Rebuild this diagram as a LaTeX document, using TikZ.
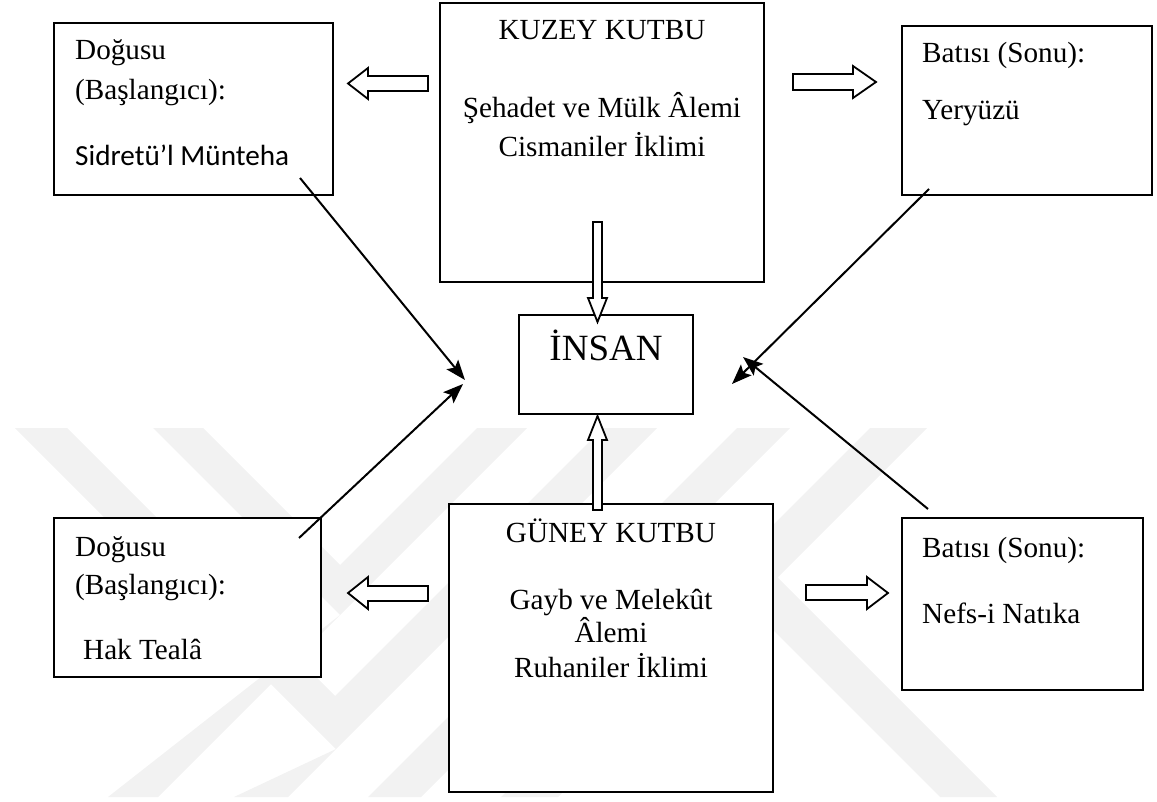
\documentclass[tikz,border=0pt]{standalone}
\usepackage{fontspec}
\setmainfont{Liberation Serif}
\newfontfamily\calibrifont{Carlito}
\usetikzlibrary{arrows.meta}
\begin{document}
\begin{tikzpicture}[x=1pt,y=-1pt,
  box/.style={draw,line width=2pt,fill=white,inner sep=0pt},
  txt/.style={inner sep=0pt,font=\fontsize{29.2}{35}\selectfont},
  ltxt/.style={txt,anchor=base west},
  ctxt/.style={txt,anchor=base},
  blockarrow/.style={draw,line width=1.8pt,fill=white,line join=miter},
  conn/.style={line width=2pt,-{Stealth[length=20pt,width=15pt,inset=4pt]}},
  wm/.style={fill=black!5,draw=none}]
\useasboundingbox (0,0) rectangle (1157,802);
% faint watermark bands
\fill[wm] (15,428) -- (67,428) -- (335,696) -- (603,428) -- (657,428) -- (288,797) -- (234,797) -- (336,749) -- cycle;
\fill[wm] (153,428) -- (203,428) -- (340,565) -- (477,428) -- (527,428) -- (158,797) -- (108,797) -- (340,615) -- cycle;
\fill[wm] (737,428) -- (790,428) -- (421,797) -- (368,797) -- cycle;
\fill[wm] (870,428) -- (927,428) -- (777.5,577.5) -- (997,797) -- (940,797) -- (749,606) -- (558,797) -- (501,797) -- cycle;
% boxes
\node[box,minimum width=279pt,minimum height=172pt] (tl) at (193.5,109) {};
\node[box,minimum width=324pt,minimum height=279pt] (kn) at (602,142.5) {};
\node[box,minimum width=250pt,minimum height=169pt] (tr) at (1027,110.5) {};
\node[box,minimum width=174pt,minimum height=99pt] (ins) at (606,364.5) {};
\node[box,minimum width=267pt,minimum height=159pt] (bl) at (187.5,597.5) {};
\node[box,minimum width=324pt,minimum height=288pt] (gk) at (611,648) {};
\node[box,minimum width=241pt,minimum height=172pt] (br) at (1022.5,604) {};
% texts
\node[ltxt] (tl1) at (75,60) {Doğusu};
\node[ltxt] (tl2) at (75,100) {(Başlangıcı):};
\node[ltxt,font=\calibrifont\fontsize{29.2}{35}\selectfont] (tl3) at (75,166) {Sidretü’l Münteha};
\node[ctxt] (kn1) at (602,40) {KUZEY KUTBU};
\node[ctxt] (kn2) at (602,118) {Şehadet ve Mülk Âlemi};
\node[ctxt] (kn3) at (602,157) {Cismaniler İklimi};
\node[ltxt] (tr1) at (922,63) {Batısı (Sonu):};
\node[ltxt] (tr2) at (922,120) {Yeryüzü};
\node[ctxt,font=\fontsize{37}{44}\selectfont] (ins1) at (606,361) {İNSAN};
\node[ltxt] (bl1) at (75,556) {Doğusu};
\node[ltxt] (bl2) at (75,594) {(Başlangıcı):};
\node[ltxt] (bl3) at (83,659) {Hak Tealâ};
\node[ctxt] (gk1) at (611,542) {GÜNEY KUTBU};
\node[ctxt] (gk2) at (611,609) {Gayb ve Melekût};
\node[ctxt] (gk3) at (611,642) {Âlemi};
\node[ctxt] (gk4) at (611,677) {Ruhaniler İklimi};
\node[ltxt] (br1) at (922,557) {Batısı (Sonu):};
\node[ltxt] (br2) at (922,623) {Nefs-i Natıka};
% block arrows
\draw[blockarrow] (428,76) -- (368,76) -- (368,68) -- (348,83.5) -- (368,99) -- (368,91) -- (428,91) -- cycle;
\draw[blockarrow] (793,74) -- (853,74) -- (853,66) -- (876,82) -- (853,98) -- (853,90) -- (793,90) -- cycle;
\draw[blockarrow] (593,222) -- (593,298) -- (588,298) -- (597.5,322) -- (607,298) -- (602,298) -- (602,222) -- cycle;
\draw[blockarrow] (593,510) -- (593,440) -- (588,440) -- (597.5,416) -- (607,440) -- (602,440) -- (602,510) -- cycle;
\draw[blockarrow] (428,586) -- (368,586) -- (368,577) -- (348,593) -- (368,609) -- (368,601) -- (428,601) -- cycle;
\draw[blockarrow] (806,585) -- (867,585) -- (867,577) -- (888,593) -- (867,609) -- (867,600) -- (806,600) -- cycle;
% connectors
\coordinate (tlS) at (300,178);
\coordinate (tlE) at (465,380);
\coordinate (blS) at (299,538);
\coordinate (blE) at (463,384);
\coordinate (trS) at (929,189);
\coordinate (trE) at (732,384);
\coordinate (brS) at (928,509);
\coordinate (brE) at (743,357);
\draw[conn] (tlS) -- (tlE);
\draw[conn] (blS) -- (blE);
\draw[conn] (trS) -- (trE);
\draw[conn] (brS) -- (brE);
\end{tikzpicture}
\end{document}
